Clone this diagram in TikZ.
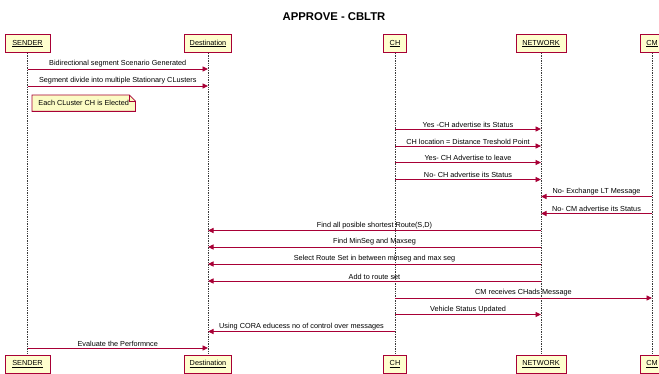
\documentclass[tikz,border=0pt]{standalone}
\usepackage{fontspec}
\setmainfont{Liberation Sans}
\usetikzlibrary{arrows.meta,calc}
\definecolor{pborder}{HTML}{A80036}
\definecolor{pfill}{HTML}{FEFECE}
\definecolor{notefill}{HTML}{FBFBC4}
\definecolor{lifecol}{HTML}{3A3A3A}
\tikzset{
  part/.style={draw=pborder, fill=pfill, line width=1pt, minimum height=18pt, inner sep=0pt, font=\fontsize{7.3}{8}\selectfont},
  life/.style={draw=lifecol, line width=0.9pt, dash pattern=on 1.4pt off 1pt},
  msg/.style={draw=pborder, line width=0.95pt, -{Triangle[length=5.5pt,width=5pt]}},
  lbl/.style={midway, above, inner sep=1.3pt, font=\fontsize{7.3}{8}\selectfont, text=black},
  notebox/.style={minimum width=103pt, minimum height=16pt, inner sep=0pt, font=\fontsize{7.3}{8}\selectfont},
}
\begin{document}
\begin{tikzpicture}[x=1pt,y=-1pt]
\useasboundingbox (0,0) rectangle (659,374);
\node[font=\bfseries\fontsize{11.3}{13}\selectfont] (title) at (334,17) {APPROVE - CBLTR};

% top participants
\node[part, minimum width=45pt] (st) at (27.5,43.5) {\underline{SENDER}};
\node[part, minimum width=47pt] (dt) at (208,43.5) {\underline{Destination}};
\node[part, minimum width=23pt] (ct) at (395,43.5) {\underline{CH}};
\node[part, minimum width=50pt] (nt) at (541,43.5) {\underline{NETWORK}};
\node[part, minimum width=23pt] (mt) at (652,43.5) {\underline{CM}};
% bottom participants
\node[part, minimum width=45pt] (sb) at (27.5,364) {\underline{SENDER}};
\node[part, minimum width=47pt] (db) at (208,364) {\underline{Destination}};
\node[part, minimum width=23pt] (cb) at (395,364) {\underline{CH}};
\node[part, minimum width=50pt] (nb) at (541,364) {\underline{NETWORK}};
\node[part, minimum width=23pt] (mb) at (652,364) {\underline{CM}};

% lifelines
\draw[life] (st.south) -- (sb.north);
\draw[life] (dt.south) -- (db.north);
\draw[life] (ct.south) -- (cb.north);
\draw[life] (nt.south) -- (nb.north);
\draw[life] (mt.south) -- (mb.north);

% messages
\draw[msg] (st |- 0,69) -- node[lbl]{Bidirectional segment Scenario Generated} (dt |- 0,69);
\draw[msg] (st |- 0,86) -- node[lbl]{Segment divide into multiple Stationary CLusters} (dt |- 0,86);

% note
\node[notebox, anchor=north west] (note) at (32,95) {Each CLuster CH is Elected};
\draw[draw=pborder, fill=notefill, line width=0.8pt]
  (note.north west) -- ($(note.north east)+(-6,0)$) -- ($(note.north east)+(0,6)$)
  -- (note.south east) -- (note.south west) -- cycle;
\draw[pborder, line width=0.6pt] ($(note.north east)+(-6,0)$) -- ($(note.north east)+(-6,6)$) -- ($(note.north east)+(0,6)$);
\node[notebox, anchor=north west] at (32,95) {Each CLuster CH is Elected};

\draw[msg] (ct |- 0,129) -- node[lbl]{Yes -CH advertise its Status} (nt |- 0,129);
\draw[msg] (ct |- 0,146) -- node[lbl]{CH location = Distance Treshold Point} (nt |- 0,146);
\draw[msg] (ct |- 0,162.5) -- node[lbl]{Yes- CH Advertise to leave} (nt |- 0,162.5);
\draw[msg] (ct |- 0,179.5) -- node[lbl]{No- CH advertise its Status} (nt |- 0,179.5);
\draw[msg] (mt |- 0,196.5) -- node[lbl]{No- Exchange LT Message} (nt |- 0,196.5);
\draw[msg] (mt |- 0,213.5) -- node[lbl]{No- CM advertise its Status} (nt |- 0,213.5);
\draw[msg] (nt |- 0,230.5) -- node[lbl]{Find all posible shortest Route(S,D)} (dt |- 0,230.5);
\draw[msg] (nt |- 0,247) -- node[lbl]{Find MinSeg and Maxseg} (dt |- 0,247);
\draw[msg] (nt |- 0,264) -- node[lbl]{Select Route Set in between minseg and max seg} (dt |- 0,264);
\draw[msg] (nt |- 0,281) -- node[lbl]{Add to route set} (dt |- 0,281);
\draw[msg] (ct |- 0,298) -- node[lbl]{CM receives CHads Message} (mt |- 0,298);
\draw[msg] (ct |- 0,314.5) -- node[lbl]{Vehicle Status Updated} (nt |- 0,314.5);
\draw[msg] (ct |- 0,331.5) -- node[lbl]{Using CORA educess no of control over messages} (dt |- 0,331.5);
\draw[msg] (st |- 0,348) -- node[lbl]{Evaluate the Performnce} (dt |- 0,348);
\end{tikzpicture}
\end{document}
